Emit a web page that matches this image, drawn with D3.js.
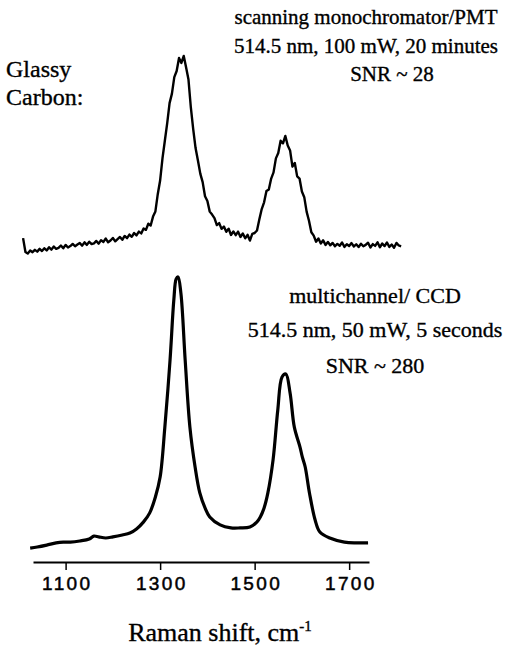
<!DOCTYPE html>
<html>
<head>
<meta charset="utf-8">
<script src="https://cdn.jsdelivr.net/npm/d3@7"></script>
<style>
  html, body { margin: 0; padding: 0; background: #fff; }
  svg { display: block; }
  .serif { font-family: "Liberation Serif", "Times New Roman", serif; fill: #000; stroke: #000; stroke-width: 0.35px; }
  .tick-label { font-family: "Liberation Sans", Arial, sans-serif; fill: #000; stroke: #000; stroke-width: 0.5px; }
</style>
</head>
<body>
<svg id="chart" width="509" height="647"></svg>
<script>
// Raman spectra of glassy carbon, two detection systems.

// Scanning monochromator / PMT: evenly sampled every 5 cm-1 from 1010 cm-1
const pmtStart = 1010;
const pmtStep = 5;
const pmtIntensity = [
  8.0,
  1.0, 0.2, 1.8, 0.9, 2.1, 1.2, 2.6, 1.5, 2.9, 1.8,
  3.4, 2.2, 3.8, 2.6, 3.1, 4.3, 2.9, 4.6, 3.3, 4.0,
  5.1, 3.9, 4.8, 5.6, 4.2, 5.9, 4.6, 6.2, 5.0, 5.4,
  6.6, 5.2, 7.0, 6.1, 7.8, 5.9, 6.8, 8.1, 6.4, 7.5,
  8.6, 7.2, 9.1, 8.0, 9.8, 8.7, 10.6, 9.4, 11.3, 10.4,
  12.9, 12.2, 15.3, 14.4, 18.9, 21.5, 30.2, 37.1, 48.3, 57.2,
  66.1, 76.2, 81.0, 89.3, 92.4, 99.0, 96.5, 100.0, 94.2, 88.1,
  74.0, 63.1, 53.5, 47.2, 40.6, 36.3, 29.2, 26.8, 21.4, 19.9,
  18.1, 14.6, 15.6, 12.7, 13.9, 11.2, 12.8, 9.6, 11.4, 9.5,
  11.3, 8.6, 10.4, 7.9, 9.7, 6.8, 10.2, 10.6, 11.9, 17.5,
  22.7, 26.1, 31.8, 32.6, 38.1, 41.2, 48.3, 51.0, 57.2, 55.9,
  59.6, 54.8, 52.3, 44.1, 46.0, 39.2, 38.1, 31.6, 28.7, 21.4,
  16.8, 11.0, 9.3, 6.2, 7.8, 5.3, 6.9, 4.6, 6.1, 4.4,
  5.6, 3.9, 5.1, 4.2, 5.8, 3.6, 4.9, 4.0, 5.5, 3.8,
  4.9, 3.5, 5.2, 3.9, 4.6, 5.7, 3.3, 5.0, 4.1, 5.9,
  3.4, 5.3, 4.0, 5.8, 3.6, 4.8, 3.2, 5.6, 4.3, 3.9
];

// Multichannel / CCD spectrum
const ccdShift = [
  1025, 1040, 1060, 1080, 1095, 1110, 1130, 1150, 1160, 1170,
  1185, 1200, 1220, 1236, 1250, 1265, 1278, 1290, 1300, 1310,
  1321, 1329, 1334, 1338, 1344, 1353, 1363, 1374, 1384, 1395,
  1405, 1427, 1450, 1469, 1490, 1505, 1512, 1520, 1528, 1539,
  1549, 1558, 1566, 1575, 1584, 1596, 1601, 1607, 1616, 1628,
  1638, 1659, 1690, 1715, 1740
];
const ccdIntensity = [
  0.7, 1.1, 1.8, 2.6, 2.9, 2.9, 3.3, 4.0, 5.1, 4.8,
  4.4, 4.8, 5.5, 6.2, 7.7, 10.3, 13.6, 19.4, 26.7, 45.0,
  69.6, 91.6, 99.3, 100.0, 94.0, 69.6, 45.0, 30.4, 20.9, 15.4,
  12.1, 9.2, 8.1, 8.1, 8.4, 10.3, 12.1, 15.4, 20.9, 33.0,
  51.3, 63.4, 64.5, 57.5, 45.0, 37.7, 34.0, 30.4, 20.9, 11.0,
  6.6, 4.4, 2.9, 2.6, 2.6
];

const tickValues = [1100, 1300, 1500, 1700];
const axisTitle = "Raman shift, cm";
const axisTitleSup = "-1";
const sampleLabel = ["Glassy", "Carbon:"];
const pmtLabel = ["scanning monochromator/PMT", "514.5 nm, 100 mW, 20 minutes", "SNR ~ 28"];
const ccdLabel = ["multichannel/ CCD", "514.5 nm, 50 mW, 5 seconds", "SNR ~ 280"];

const svg = d3.select("#chart");

const x = d3.scaleLinear().domain([1031, 1742]).range([33, 369]);
const yTop = d3.scaleLinear().domain([0, 100]).range([254, 56]);
const yBot = d3.scaleLinear().domain([0, 100]).range([550, 277]);

const pmtData = pmtIntensity.map((v, i) => ({ s: pmtStart + i * pmtStep, v }));
const ccdData = ccdShift.map((s, i) => ({ s, v: ccdIntensity[i] }));

// noisy PMT trace
svg.append("path")
  .datum(pmtData)
  .attr("fill", "none")
  .attr("stroke", "#000")
  .attr("stroke-width", 2.4)
  .attr("stroke-linejoin", "round")
  .attr("d", d3.line().x(d => x(d.s)).y(d => yTop(d.v)));

// smooth CCD trace
svg.append("path")
  .datum(ccdData)
  .attr("fill", "none")
  .attr("stroke", "#000")
  .attr("stroke-width", 3.2)
  .attr("stroke-linejoin", "round")
  .attr("d", d3.line().curve(d3.curveCatmullRom.alpha(0.5)).x(d => x(d.s)).y(d => yBot(d.v)));

// x axis
const axisG = svg.append("g")
  .attr("transform", "translate(0,562)")
  .call(d3.axisBottom(x).tickValues(tickValues).tickSize(8).tickSizeOuter(0).tickPadding(7).tickFormat(d3.format("d")));
axisG.select(".domain").attr("stroke-width", 2);
axisG.selectAll(".tick line").attr("stroke-width", 1.5);
axisG.selectAll(".tick text")
  .attr("class", "tick-label")
  .style("font-size", "19px")
  .style("letter-spacing", "2.4px")
  .attr("dx", "1.2px");

// axis title with superscript
const title = svg.append("text")
  .attr("class", "serif")
  .attr("x", 220)
  .attr("y", 641)
  .attr("text-anchor", "middle")
  .style("font-size", "26px");
title.append("tspan").text(axisTitle);
title.append("tspan").attr("dy", -10).style("font-size", "15px").text(axisTitleSup);

// sample label
svg.append("g").selectAll("text")
  .data(sampleLabel)
  .join("text")
  .attr("class", "serif")
  .attr("x", 6)
  .attr("y", (d, i) => 77 + i * 28)
  .style("font-size", "24px")
  .text(d => d);

// annotation blocks
const pmtX = [366, 366, 392];
const pmtY = [24, 53, 81];
svg.append("g").selectAll("text")
  .data(pmtLabel)
  .join("text")
  .attr("class", "serif")
  .attr("x", (d, i) => pmtX[i])
  .attr("y", (d, i) => pmtY[i])
  .attr("text-anchor", "middle")
  .style("font-size", "21px")
  .text(d => d);

const ccdY = [303, 337, 373];
svg.append("g").selectAll("text")
  .data(ccdLabel)
  .join("text")
  .attr("class", "serif")
  .attr("x", 375)
  .attr("y", (d, i) => ccdY[i])
  .attr("text-anchor", "middle")
  .style("font-size", "22px")
  .text(d => d);
</script>
</body>
</html>
